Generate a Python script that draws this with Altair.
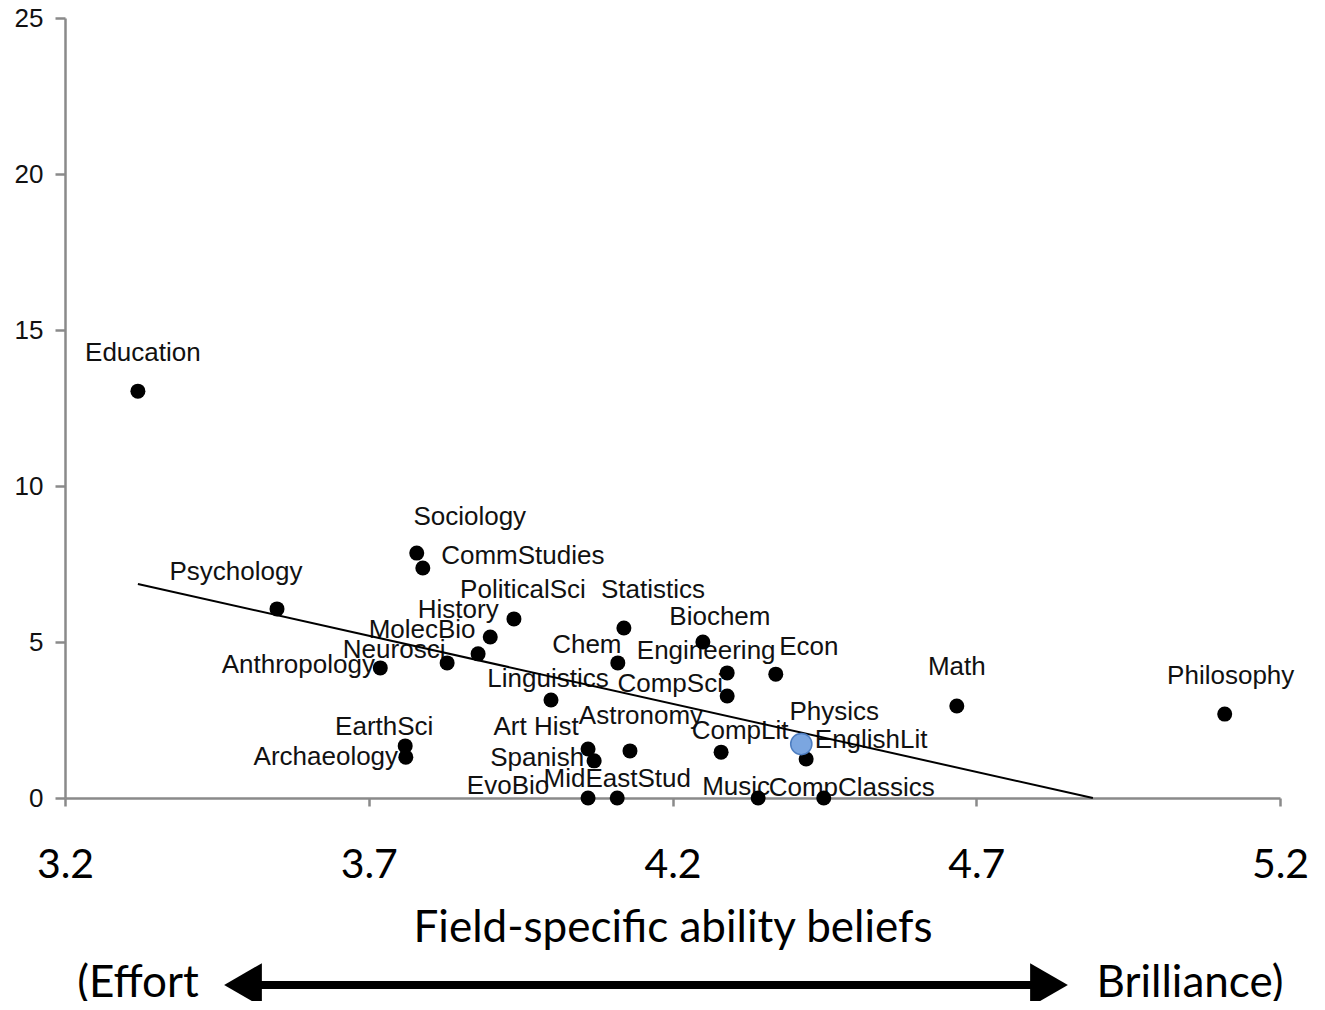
import altair as alt
import pandas as pd

# ---- data ----
fields = ["Education", "Psychology", "Sociology", "CommStudies", "PoliticalSci",
          "History", "MolecBio", "Neurosci", "Anthropology", "Linguistics",
          "Statistics", "Chem", "Biochem", "Engineering", "CompSci", "Econ",
          "Math", "Philosophy", "Physics", "EnglishLit", "CompLit", "Astronomy",
          "Art Hist", "Spanish", "EarthSci", "Archaeology", "EvoBio",
          "MidEastStud", "Music", "CompClassics"]
ability = [3.320, 3.549, 3.779, 3.789, 3.939,
           3.900, 3.880, 3.829, 3.719, 4.000,
           4.120, 4.110, 4.250, 4.290, 4.290, 4.370,
           4.668, 5.109, 4.412, 4.420, 4.280, 4.130,
           4.061, 4.071, 3.760, 3.761, 4.061,
           4.109, 4.341, 4.449]
percent = [13.04, 6.06, 7.85, 7.37, 5.74,
           5.16, 4.62, 4.33, 4.17, 3.14,
           5.45, 4.33, 5.00, 4.01, 3.27, 3.97,
           2.95, 2.69, 1.73, 1.25, 1.47, 1.51,
           1.57, 1.19, 1.67, 1.31, 0.0,
           0.0, 0.0, 0.0]
highlight = "Physics"

trend_x = [3.320, 4.892]
trend_y = [6.86, 0.0]

x_ticks = [3.2, 3.7, 4.2, 4.7, 5.2]
y_ticks = [0, 5, 10, 15, 20, 25]

# ---- layout (label offsets in pixels from each point) ----
label_dx = [5, -41, 53, 100, 9, -32, -56, -53, -82, -3,
            29, -31, 17, -21, -57, 33, 0, 6, 33, 65,
            19, 11, -52, -57, -21, -80, -80, 0, -22, 28]
label_dy = [-38, -37, -36, -12, -29, -27, -24, -13, -3, -21,
            -38, -18, -25, -22, -12, -27, -39, -38, -32, -19,
            -21, -35, -22, -3, -19, 0, -12, -19, -11, -10]

W, H = 1215, 780
X_DOM = [3.2, 5.2]
Y_DOM = [0, 25]
px_x = W / (X_DOM[1] - X_DOM[0])
px_y = H / (Y_DOM[1] - Y_DOM[0])

df = pd.DataFrame({"field": fields, "x": ability, "y": percent,
                   "dx": label_dx, "dy": label_dy})
df["lx"] = df["x"] + df["dx"] / px_x
df["ly"] = df["y"] - df["dy"] / px_y
df_black = df[df["field"] != highlight]
df_blue = df[df["field"] == highlight]
trend = pd.DataFrame({"x": trend_x, "y": trend_y})

xs = alt.Scale(domain=X_DOM, nice=False, zero=False)
ys = alt.Scale(domain=Y_DOM, nice=False, zero=False)

AX = "#8a8a8a"
x_axis = alt.Axis(values=x_ticks, format=".1f", title="Field-specific ability beliefs",
                  labelFont="Lato", labelFontSize=41, labelColor="#000",
                  titleFont="Lato", titleFontSize=44, titleFontWeight="normal",
                  titleColor="#000", labelPadding=39, titlePadding=21,
                  tickSize=8, tickWidth=2.5, tickColor=AX, domainColor=AX,
                  domainWidth=2.5, grid=False, labelFlush=False)
y_axis = alt.Axis(values=y_ticks, title=None,
                  labelFont="Liberation Sans", labelFontSize=26, labelColor="#111",
                  labelPadding=12, tickSize=10, tickWidth=2.5, tickColor=AX,
                  domainColor=AX, domainWidth=2.5, grid=False)

X = alt.X("x:Q", scale=xs, axis=x_axis)
Y = alt.Y("y:Q", scale=ys, axis=y_axis)

labels = alt.Chart(df).mark_text(font="Liberation Sans", fontSize=26, align="center",
                                 baseline="middle", color="#111").encode(
    x=alt.X("lx:Q", scale=xs, axis=x_axis),
    y=alt.Y("ly:Q", scale=ys, axis=y_axis),
    text="field:N")

line = alt.Chart(trend).mark_line(color="black", strokeWidth=2).encode(x=X, y=Y)

points = alt.Chart(df_black).mark_circle(size=225, color="black", opacity=1).encode(x=X, y=Y)

blue = alt.Chart(df_blue).mark_point(filled=True, shape="circle", size=450,
                                     fill="#7ba6e0", stroke="#4d7dc0",
                                     strokeWidth=1.5, opacity=1).encode(x=X, y=Y)

one = pd.DataFrame({"k": [0]})
arrow_line = alt.Chart(one).mark_rule(color="black", strokeWidth=8).encode(
    x=alt.value(170), x2=alt.value(995), y=alt.value(967))
arrow_left = alt.Chart(one).mark_point(shape="triangle-left", filled=True, size=1900,
                                       color="black", opacity=1).encode(
    x=alt.value(178), y=alt.value(967))
arrow_right = alt.Chart(one).mark_point(shape="triangle-right", filled=True, size=1900,
                                        color="black", opacity=1).encode(
    x=alt.value(984), y=alt.value(967))
effort = alt.Chart(one).mark_text(font="Lato", fontSize=44, align="center",
                                  baseline="middle", color="#000").encode(
    x=alt.value(73), y=alt.value(966), text=alt.value("(Effort"))
brill = alt.Chart(one).mark_text(font="Lato", fontSize=44, align="center",
                                 baseline="middle", color="#000").encode(
    x=alt.value(1125), y=alt.value(966), text=alt.value("Brilliance)"))

chart = alt.layer(labels, line, points, blue, arrow_line, arrow_left, arrow_right,
                  effort, brill).properties(
    width=W, height=H, autosize="none",
    padding={"left": 57, "top": 10, "right": 35, "bottom": 203},
    background="white").configure_view(stroke=None)

chart.save("out.html", embed_options={"renderer": "svg", "actions": False})
